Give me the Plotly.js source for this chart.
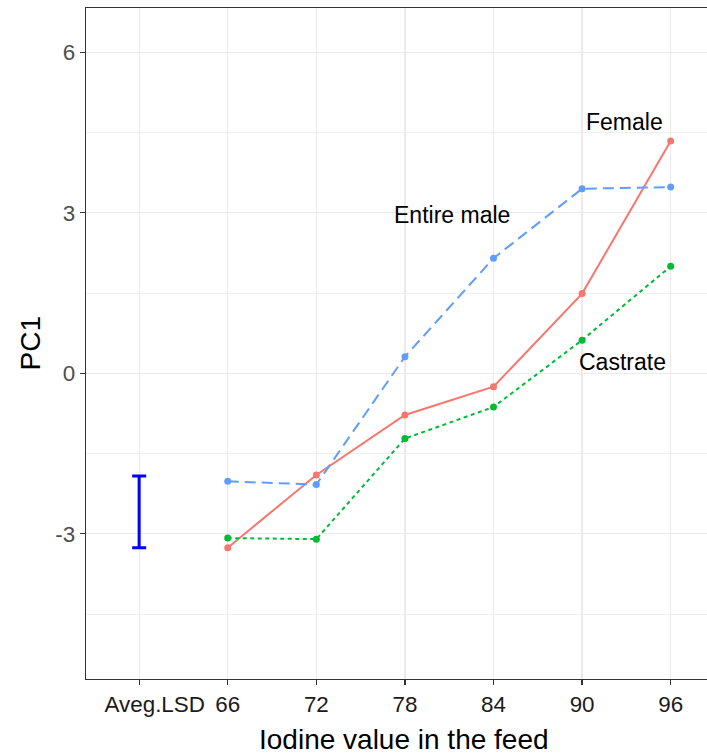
<!DOCTYPE html>
<html>
<head>
<meta charset="utf-8">
<script src="https://cdn.plot.ly/plotly-3.0.1.min.js"></script>
<style>
  html, body { margin: 0; padding: 0; background: #ffffff; }
  #chart { width: 707px; height: 756px; }
</style>
</head>
<body>
<div id="chart"></div>
<script>
// ---- data ----
const categories = ['Aveg.LSD', '66', '72', '78', '84', '90', '96'];
const tickLabels = ['\u00A0\u00A0\u00A0\u00A0\u00A0Aveg.LSD', '66', '72', '78', '84', '90', '96'];
const iodine = ['66', '72', '78', '84', '90', '96'];
const female = [-3.26, -1.90, -0.78, -0.25, 1.49, 4.34];
const entireMale = [-2.02, -2.08, 0.31, 2.15, 3.45, 3.48];
const castrate = [-3.08, -3.10, -1.22, -0.63, 0.62, 2.00];
const lsdLabel = 'Aveg.LSD';
const lsdLow = -3.26;
const lsdHigh = -1.92;
const seriesNames = ['Female', 'Entire male', 'Castrate'];
const labelX = [5.48, 3.535, 5.46];
const labelY = [4.70, 2.95, 0.21];
const yTicks = [-3, 0, 3, 6];

const colors = {'Female': '#F8766D', 'Entire male': '#619CFF', 'Castrate': '#00BA38'};
const dashes = {'Female': 'solid', 'Entire male': '11px,6px', 'Castrate': '4px,3.5px'};
const values = {'Female': female, 'Entire male': entireMale, 'Castrate': castrate};

const traces = seriesNames.map(name => ({
  type: 'scatter',
  mode: 'lines+markers',
  x: iodine,
  y: values[name],
  name: name,
  line: {color: colors[name], width: 2, dash: dashes[name]},
  marker: {color: colors[name], size: 7},
  hoverinfo: 'skip'
}));

traces.push({
  type: 'scatter',
  mode: 'markers',
  x: [lsdLabel],
  y: [(lsdLow + lsdHigh) / 2],
  marker: {size: 1, opacity: 0},
  error_y: {type: 'data', array: [(lsdHigh - lsdLow) / 2], visible: true,
            color: '#0000FF', thickness: 3, width: 7},
  hoverinfo: 'skip',
  showlegend: false
});

const annotations = seriesNames.map((name, i) => ({
  x: labelX[i], y: labelY[i], xref: 'x', yref: 'y',
  text: name, showarrow: false,
  xanchor: 'center', yanchor: 'middle',
  font: {family: 'Liberation Sans, Arial, sans-serif', size: 23, color: '#000000'}
}));
annotations.push({
  x: 0.5124, y: -0.0909, xref: 'paper', yref: 'paper',
  text: 'Iodine value in the feed', showarrow: false,
  xanchor: 'center', yanchor: 'middle',
  font: {family: 'Liberation Sans, Arial, sans-serif', size: 28, color: '#000000'}
});
annotations.push({
  x: -0.0886, y: 0.5, xref: 'paper', yref: 'paper',
  text: 'PC1', showarrow: false, textangle: -90,
  xanchor: 'center', yanchor: 'middle',
  font: {family: 'Liberation Sans, Arial, sans-serif', size: 28, color: '#000000'}
});

const layout = {
  width: 707, height: 756,
  margin: {l: 86, r: 0, t: 8, b: 77, pad: 0},
  paper_bgcolor: '#ffffff', plot_bgcolor: '#ffffff',
  showlegend: false,
  font: {family: 'Liberation Sans, Arial, sans-serif'},
  xaxis: {
    type: 'category',
    categoryorder: 'array', categoryarray: categories,
    tickmode: 'array', tickvals: categories, ticktext: tickLabels,
    range: [-0.6, 6.41],
    showgrid: true, gridcolor: '#EBEBEB', gridwidth: 1.3,
    zeroline: false,
    showline: true, linecolor: '#333333', linewidth: 1.3, mirror: true,
    ticks: 'outside', ticklen: 5, tickcolor: '#333333', tickwidth: 1.3,
    tickfont: {size: 22.4, color: '#1A1A1A'}
  },
  yaxis: {
    range: [-5.714, 6.828],
    tickmode: 'array', tickvals: yTicks, ticktext: yTicks.map(String),
    showgrid: true, gridcolor: '#EBEBEB', gridwidth: 1.3,
    minor: {tickmode: 'linear', tick0: 1.5, dtick: 3, showgrid: true, gridcolor: '#EBEBEB', gridwidth: 0.8, ticks: ''},
    zeroline: false,
    showline: true, linecolor: '#333333', linewidth: 1.3, mirror: false,
    ticks: 'outside', ticklen: 5, tickcolor: '#333333', tickwidth: 1.3,
    tickfont: {size: 22.4, color: '#4D4D4D'}
  },
  annotations: annotations
};

Plotly.newPlot('chart', traces, layout, {staticPlot: true, displayModeBar: false});
</script>
</body>
</html>
